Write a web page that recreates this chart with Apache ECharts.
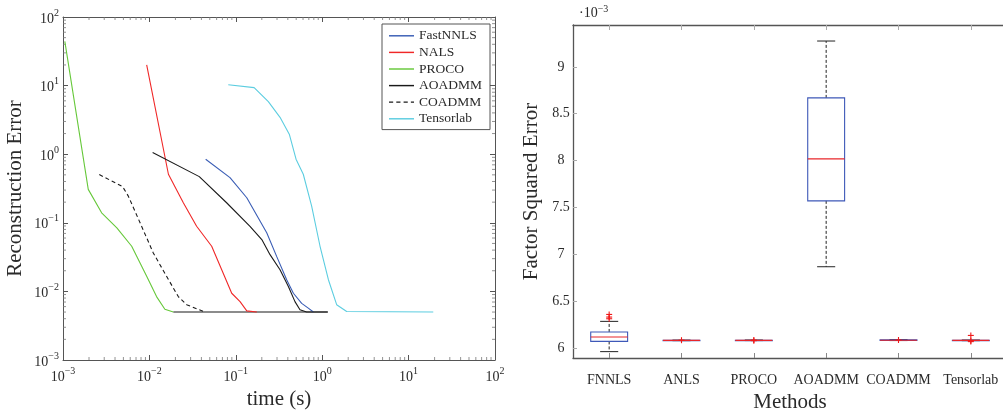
<!DOCTYPE html>
<html><head><meta charset="utf-8">
<script src="https://cdn.jsdelivr.net/npm/echarts@6/dist/echarts.min.js"></script>
<style>html,body{margin:0;padding:0;background:#fff}#c{width:1003px;height:412px}</style>
</head><body><div id="c"></div>
<script>
// ---- Left chart: reconstruction error vs time ----
const fastnnlsT = [0.0448, 0.0857, 0.134, 0.228, 0.297, 0.388, 0.464, 0.579, 0.69, 0.79];
const fastnnlsE = [0.845, 0.456, 0.232, 0.0714, 0.0324, 0.0148, 0.0094, 0.0067, 0.0057, 0.005];
const nalsT = [0.0093, 0.0166, 0.0247, 0.0352, 0.0526, 0.0687, 0.0897, 0.112, 0.134, 0.175];
const nalsE = [20.1, 0.51, 0.196, 0.089, 0.0455, 0.0207, 0.0094, 0.0071, 0.0052, 0.005];
const procoT = [0.00105, 0.00196, 0.0028, 0.0042, 0.00624, 0.0093, 0.0121, 0.0151, 0.0189];
const procoE = [44, 0.307, 0.14, 0.0845, 0.0455, 0.0166, 0.0084, 0.0055, 0.005];
const aoadmmT = [0.0109, 0.0378, 0.0783, 0.146, 0.2, 0.249, 0.325, 0.406, 0.484, 0.553, 0.66, 1.16];
const aoadmmE = [1.06, 0.471, 0.196, 0.089, 0.057, 0.0343, 0.0207, 0.0118, 0.0071, 0.0054, 0.005, 0.005];
const floorT = [0.0189, 1.16];
const floorE = [0.005, 0.005];
const coadmmT = [0.00263, 0.0049, 0.0057, 0.0078, 0.0111, 0.0158, 0.0216, 0.027, 0.042];
const coadmmE = [0.505, 0.336, 0.245, 0.1, 0.0363, 0.0166, 0.0084, 0.0064, 0.0051];
const tensorlabT = [0.0818, 0.163, 0.238, 0.325, 0.416, 0.498, 0.604, 0.755, 0.944, 1.18, 1.47, 1.92, 19.3];
const tensorlabE = [10.3, 9.35, 5.83, 3.45, 1.96, 0.845, 0.51, 0.175, 0.0455, 0.0148, 0.0064, 0.0051, 0.005];
const legendNames = ['FastNNLS', 'NALS', 'PROCO', 'AOADMM', 'COADMM', 'Tensorlab'];

// ---- Right chart: factor squared error boxplots (x 1e-3) ----
const methods = ['FNNLS', 'ANLS', 'PROCO', 'AOADMM', 'COADMM', 'Tensorlab'];
const whiskerLow = [5.961, 6.078, 6.079, 6.867, 6.079, 6.078];
const quart1 = [6.070, 6.079, 6.080, 7.570, 6.080, 6.079];
const medians = [6.117, 6.081, 6.081, 8.018, 6.082, 6.081];
const quart3 = [6.171, 6.083, 6.083, 8.669, 6.086, 6.083];
const whiskerHigh = [6.284, 6.084, 6.085, 9.276, 6.090, 6.085];
const outlierCat = [0, 0, 0, 1, 2, 2, 4, 5, 5, 5];
const outlierVal = [6.358, 6.330, 6.312, 6.083, 6.084, 6.078, 6.085, 6.134, 6.078, 6.068];

const FONT = 'Liberation Serif';
const FRAME = '#555';
const TXT = '#2a2a2a';

function zip(a, b) { return a.map((v, i) => [v, b[i]]); }
function powLabel(v) {
  const e = Math.round(Math.log10(v));
  return '{b|10}{s|' + (e < 0 ? '\u2212' + (-e) : e) + '}';
}
const powRich = {
  b: { fontFamily: FONT, fontSize: 14, color: TXT, lineHeight: 18, verticalAlign: 'bottom' },
  s: { fontFamily: FONT, fontSize: 10, color: TXT, lineHeight: 18, verticalAlign: 'top' }
};

const minorVals = [];
for (let d = -3; d < 2; d++) for (let k = 2; k <= 9; k++) minorVals.push(k * Math.pow(10, d));

const SOLID_ICON = 'path://M0,0H24V1.4H0Z';
const DASH_ICON = 'path://M0,0H4V1.2H0Z M7,0H11V1.2H7Z M14,0H18V1.2H14Z M21,0H24V1.2H21Z';

function mkLine(name, t, e, color, dashed) {
  return {
    type: 'line', name: name, xAxisIndex: 0, yAxisIndex: 0, data: zip(t, e),
    symbol: 'none', showSymbol: false, smooth: false, animation: false,
    lineStyle: { color: color, width: 1.1, type: dashed ? [4, 3] : 'solid' },
    itemStyle: { color: color }
  };
}

const chart = echarts.init(document.getElementById('c'), null, { renderer: 'canvas' });

const logAxisCommon = {
  type: 'log', logBase: 10, gridIndex: 0,
  axisLine: { show: true, lineStyle: { color: FRAME, width: 1 } },
  axisTick: { show: true, inside: true, length: 5, lineStyle: { color: FRAME } },
  splitLine: { show: false }
};

const option = {
  animation: false,
  backgroundColor: '#fff',
  title: {
    text: '·10{s|\u22123}', left: 574, top: -1,
    textStyle: { fontFamily: FONT, fontSize: 14, color: TXT, fontWeight: 'normal', lineHeight: 18,
      rich: { s: { fontFamily: FONT, fontSize: 10, color: TXT, verticalAlign: 'top', lineHeight: 18 } } }
  },
  legend: {
    data: legendNames.map(n => ({ name: n, icon: n === 'COADMM' ? DASH_ICON : SOLID_ICON })),
    orient: 'vertical', left: 382, top: 24,
    backgroundColor: '#fff', borderColor: FRAME, borderWidth: 1,
    padding: [4, 8, 3, 7], itemGap: 1, itemWidth: 25, itemHeight: 2,
    textStyle: { fontFamily: FONT, fontSize: 13.5, color: TXT, lineHeight: 15.6, padding: [0, 0, 0, 0] },
    selectedMode: false
  },
  grid: [
    { left: 63, top: 17, width: 432, height: 343, containLabel: false, outerBoundsMode: 'none' },
    { left: 573, top: 25, right: -4, height: 333, containLabel: false, outerBoundsMode: 'none' }
  ],
  xAxis: [
    Object.assign({}, logAxisCommon, {
      min: 0.001, max: 100, position: 'bottom',
      name: 'time (s)', nameLocation: 'middle', nameGap: 20,
      nameTextStyle: { fontFamily: FONT, fontSize: 21, color: TXT },
      axisLabel: { formatter: powLabel, rich: powRich, margin: 6 }
    }),
    Object.assign({}, logAxisCommon, {
      min: 0.001, max: 100, position: 'top', axisLabel: { show: false }
    }),
    {
      type: 'category', gridIndex: 1, data: methods, position: 'bottom',
      axisLine: { show: true, lineStyle: { color: FRAME, width: 1.3 } },
      axisTick: { show: true, inside: true, alignWithLabel: true, length: 5, lineStyle: { color: '#888' } },
      axisLabel: { fontFamily: FONT, fontSize: 14, color: TXT, margin: 15, interval: 0, hideOverlap: false },
      name: 'Methods', nameLocation: 'middle', nameGap: 30,
      nameTextStyle: { fontFamily: FONT, fontSize: 21, color: TXT },
      splitLine: { show: false }
    },
    {
      type: 'category', gridIndex: 1, data: methods, position: 'top',
      axisLine: { show: true, lineStyle: { color: FRAME, width: 1.3 } },
      axisTick: { show: true, inside: true, alignWithLabel: true, length: 5, lineStyle: { color: '#aaa' } },
      axisLabel: { show: false }, splitLine: { show: false }
    }
  ],
  yAxis: [
    Object.assign({}, logAxisCommon, {
      min: 0.001, max: 100, position: 'left',
      name: 'Reconstruction Error', nameLocation: 'middle', nameGap: 37,
      nameTextStyle: { fontFamily: FONT, fontSize: 21, color: TXT },
      axisLabel: { formatter: powLabel, rich: powRich, margin: 4 }
    }),
    Object.assign({}, logAxisCommon, {
      min: 0.001, max: 100, position: 'right', axisLabel: { show: false }
    }),
    {
      type: 'value', gridIndex: 1, min: 5.893, max: 9.447, splitNumber: 7,
      axisLine: { show: true, lineStyle: { color: FRAME, width: 1.3 } },
      axisTick: { show: true, inside: true, length: 4, lineStyle: { color: '#aaa' } },
      axisLabel: {
        fontFamily: FONT, fontSize: 14, color: TXT, margin: 12, align: 'center',
        showMinLabel: false, showMaxLabel: false,
        formatter: function (v) {
          return Math.abs(v * 2 - Math.round(v * 2)) < 1e-6 ? String(Math.round(v * 2) / 2) : '';
        }
      },
      name: 'Factor Squared Error', nameLocation: 'middle', nameGap: 31,
      nameTextStyle: { fontFamily: FONT, fontSize: 21, color: TXT },
      splitLine: { show: false }
    }
  ],
  series: [
    {
      type: 'custom', xAxisIndex: 0, yAxisIndex: 0, silent: true, clip: false,
      data: minorVals.map(v => [v, 0.001]),
      renderItem: function (params, api) {
        const b = api.coord([api.value(0), 0.001]);
        const t = api.coord([api.value(0), 100]);
        const st = { stroke: '#777', lineWidth: 0.8 };
        return { type: 'group', children: [
          { type: 'line', shape: { x1: b[0], y1: b[1], x2: b[0], y2: b[1] - 3 }, style: st },
          { type: 'line', shape: { x1: t[0], y1: t[1], x2: t[0], y2: t[1] + 3 }, style: st }
        ] };
      }
    },
    {
      type: 'custom', xAxisIndex: 0, yAxisIndex: 0, silent: true, clip: false,
      data: minorVals.map(v => [0.001, v]),
      renderItem: function (params, api) {
        const l = api.coord([0.001, api.value(1)]);
        const r = api.coord([100, api.value(1)]);
        const st = { stroke: '#777', lineWidth: 0.8 };
        return { type: 'group', children: [
          { type: 'line', shape: { x1: l[0], y1: l[1], x2: l[0] + 3, y2: l[1] }, style: st },
          { type: 'line', shape: { x1: r[0], y1: r[1], x2: r[0] - 3, y2: r[1] }, style: st }
        ] };
      }
    },
    mkLine('AOADMM', floorT, floorE, '#1a1a1a', false),
    mkLine('FastNNLS', fastnnlsT, fastnnlsE, '#3a5db5', false),
    mkLine('NALS', nalsT, nalsE, '#f02828', false),
    mkLine('PROCO', procoT, procoE, '#66c83a', false),
    mkLine('AOADMM', aoadmmT, aoadmmE, '#1a1a1a', false),
    mkLine('COADMM', coadmmT, coadmmE, '#1a1a1a', true),
    mkLine('Tensorlab', tensorlabT, tensorlabE, '#5ccde0', false),
    {
      type: 'custom', xAxisIndex: 2, yAxisIndex: 2, silent: true,
      data: methods.map((m, i) => [i, whiskerLow[i], quart1[i], medians[i], quart3[i], whiskerHigh[i]]),
      renderItem: function (params, api) {
        const i = api.value(0);
        const band = api.size([1, 0])[0];
        const cx = api.coord([i, api.value(3)])[0];
        const yLo = api.coord([i, api.value(1)])[1];
        const yQ1 = api.coord([i, api.value(2)])[1];
        const yMd = api.coord([i, api.value(3)])[1];
        const yQ3 = api.coord([i, api.value(4)])[1];
        const yHi = api.coord([i, api.value(5)])[1];
        const hw = band * 0.255, cw = band * 0.125;
        const dash = { stroke: '#222', lineWidth: 1, lineDash: [3, 2] };
        const solid = { stroke: '#222', lineWidth: 1 };
        return { type: 'group', children: [
          { type: 'line', shape: { x1: cx, y1: yQ3, x2: cx, y2: yHi }, style: dash },
          { type: 'line', shape: { x1: cx, y1: yQ1, x2: cx, y2: yLo }, style: dash },
          { type: 'line', shape: { x1: cx - cw, y1: yHi, x2: cx + cw, y2: yHi }, style: solid },
          { type: 'line', shape: { x1: cx - cw, y1: yLo, x2: cx + cw, y2: yLo }, style: solid },
          { type: 'rect', shape: { x: cx - hw, y: yQ3, width: 2 * hw, height: Math.max(yQ1 - yQ3, 0.5) },
            style: { fill: 'none', stroke: '#3e58b8', lineWidth: 1.1 } },
          { type: 'line', shape: { x1: cx - hw, y1: yMd, x2: cx + hw, y2: yMd }, style: { stroke: '#e8262a', lineWidth: 1.1 } }
        ] };
      }
    },
    {
      type: 'custom', xAxisIndex: 2, yAxisIndex: 2, silent: true,
      data: outlierCat.map((c, i) => [c, outlierVal[i]]),
      renderItem: function (params, api) {
        const p = api.coord([api.value(0), api.value(1)]);
        const s = 3, st = { stroke: '#f01818', lineWidth: 1.1 };
        return { type: 'group', children: [
          { type: 'line', shape: { x1: p[0] - s, y1: p[1], x2: p[0] + s, y2: p[1] }, style: st },
          { type: 'line', shape: { x1: p[0], y1: p[1] - s, x2: p[0], y2: p[1] + s }, style: st }
        ] };
      }
    }
  ]
};
chart.setOption(option);
</script>
</body></html>
